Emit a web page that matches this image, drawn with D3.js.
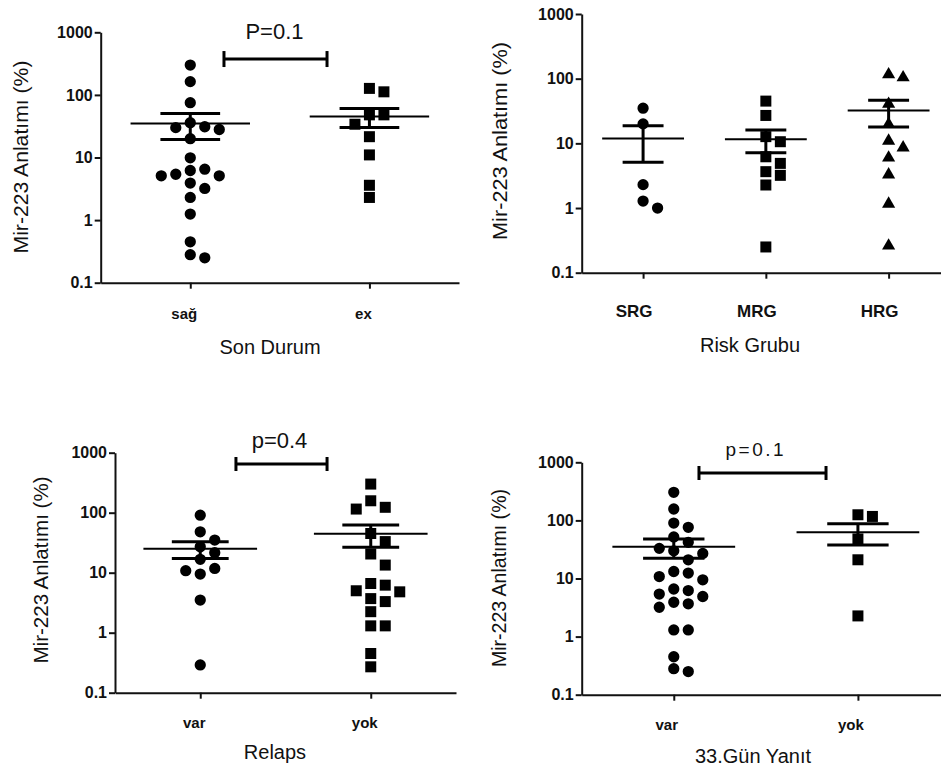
<!DOCTYPE html>
<html>
<head>
<meta charset="utf-8">
<script src="https://cdn.jsdelivr.net/npm/d3@7"></script>
<style>
  body { margin: 0; background: #fff; }
  text { font-family: "Liberation Sans", Arial, sans-serif; fill: #111; }
</style>
</head>
<body>
<svg id="chart" width="941" height="769"></svg>
<script>
// log y axis, shared by all four plots
const yTicks = [0.1, 1, 10, 100, 1000];
const yTickLabels = ["0.1", "1", "10", "100", "1000"];
const yTitleText = "Mir-223 Anlatımı (%)";

// Son Durum
const sonDurumCats = ["sağ", "ex"];
const sonDurumSag = [300, 163, 75, 36, 31, 30, 28, 20, 9.9, 6.5, 6.2, 5.4, 5.1, 5.1, 3.9, 3.2, 2.3, 1.25, 0.45, 0.28, 0.25];
const sonDurumEx = [127, 112, 48, 48, 34, 21.5, 11, 3.6, 2.3];

// Risk Grubu
const riskCats = ["SRG", "MRG", "HRG"];
const riskSRG = [35, 20, 2.3, 1.28, 1.0];
const riskMRG = [45, 27, 12.7, 10.6, 6.2, 4.9, 3.65, 3.2, 2.27, 0.25];
const riskHRG = [120, 108, 42, 20.4, 11.3, 8.9, 6.2, 3.4, 1.2, 0.27];

// Relaps
const relapsCats = ["var", "yok"];
const relapsVar = [91, 48, 35, 27, 21.5, 16.7, 11.8, 10.8, 9.5, 3.5, 0.29];
const relapsYok = [300, 158, 123, 115, 45, 33, 20.5, 13.4, 6.6, 6.2, 5.0, 4.8, 3.7, 3.3, 2.24, 1.3, 1.3, 0.45, 0.27];

// 33. gün yanıt
const yanitCats = ["var", "yok"];
const yanitVar = [304, 157, 90, 76, 52, 42, 33, 30, 27, 21, 13.2, 12.4, 10.8, 9.5, 6.6, 6.2, 5.4, 4.9, 3.9, 3.66, 3.2, 1.3, 1.3, 0.45, 0.28, 0.25];
const yanitYok = [125, 117, 48, 21, 2.27];

const svg = d3.select("#chart");
svg.append("rect").attr("width", 941).attr("height", 769).attr("fill", "#fff");

const symbolTypes = { circle: d3.symbolCircle, square: d3.symbolSquare, triangle: d3.symbolTriangle };
const symbolSizes = { circle: 100, square: 121, triangle: 75 };

const panels = [
  {
    cats: sonDurumCats, groups: [sonDurumSag, sonDurumEx], shapes: ["circle", "square"],
    xRange: [100.7, 459], yRange: [282.7, 32.3],
    cat: { size: 15, dx: -6, dy: 36 },
    yTitle: { x: 28, y: 157, len: 193 },
    xTitle: { text: "Son Durum", x: 270, y: 354 },
    sig: { value: 374, dxA: 33.7, dxB: -42.4, cap: 8, label: "P=0.1", ldx: -1, ldy: -20, size: 22, len: 0 }
  },
  {
    cats: riskCats, groups: [riskSRG, riskMRG, riskHRG], shapes: ["circle", "square", "triangle"],
    xRange: [581.7, 950], yRange: [272.7, 14],
    cat: { size: 17, dx: -9, dy: 44 },
    yTitle: { x: 507, y: 141, len: 198 },
    xTitle: { text: "Risk Grubu", x: 750, y: 352 },
    sig: null
  },
  {
    cats: relapsCats, groups: [relapsVar, relapsYok], shapes: ["circle", "square"],
    xRange: [115, 456], yRange: [692.7, 452.7],
    cat: { size: 15, dx: -6, dy: 35 },
    yTitle: { x: 48, y: 570, len: 187 },
    xTitle: { text: "Relaps", x: 275, y: 759 },
    sig: { value: 648, dxA: 35.7, dxB: -43.7, cap: 7, label: "p=0.4", ldx: -2, ldy: -16, size: 22, len: 0 }
  },
  {
    cats: yanitCats, groups: [yanitVar, yanitYok], shapes: ["circle", "square"],
    xRange: [581.7, 950], yRange: [694.7, 462.3],
    cat: { size: 15, dx: -7, dy: 35 },
    yTitle: { x: 506, y: 578, len: 178 },
    xTitle: { text: "33.Gün Yanıt", x: 753, y: 763 },
    sig: { value: 655, dxA: 25.2, dxB: -31.9, cap: 7, label: "p=0.1", ldx: -8, ldy: -17, size: 19, len: 58 }
  }
];

// simple dot-plot spreading: put each point in the first free column (0, +1, -1, +2, ...)
function swarm(values, y, cx, gap, minDist) {
  const placed = [];
  const order = values.map((v, i) => i).sort((a, b) => values[b] - values[a]);
  const slots = [0, 1, -1, 2, -2, 3, -3, 4, -4];
  order.forEach(i => {
    const py = y(values[i]);
    for (const s of slots) {
      const px = cx + s * gap;
      if (placed.every(q => Math.hypot(q.x - px, q.y - py) >= minDist)) {
        placed.push({ x: px, y: py, v: values[i] });
        break;
      }
    }
  });
  return placed;
}

function drawPanel(p) {
  const g = svg.append("g");
  const x = d3.scalePoint().domain(p.cats).range(p.xRange).padding(0.5);
  const y = d3.scaleLog().domain([0.1, 1000]).range(p.yRange);
  const step = x.step();
  const x0 = p.xRange[0];
  const yB = p.yRange[0];

  // points
  p.groups.forEach((vals, gi) => {
    const cx = x(p.cats[gi]);
    const pts = swarm(vals, y, cx, 14.5, 11.5);
    const sym = d3.symbol().type(symbolTypes[p.shapes[gi]]).size(symbolSizes[p.shapes[gi]]);
    g.selectAll(null).data(pts).enter().append("path")
      .attr("d", sym)
      .attr("transform", d => `translate(${d.x},${d.y + (p.shapes[gi] === "triangle" ? 1 : 0)})`)
      .attr("fill", "#000");

    // mean and SEM
    const m = d3.mean(vals);
    const sem = d3.deviation(vals) / Math.sqrt(vals.length);
    const hw = step / 3, cw = step / 6;
    g.append("line").attr("x1", cx - hw).attr("x2", cx + hw)
      .attr("y1", y(m)).attr("y2", y(m)).attr("stroke", "#000").attr("stroke-width", 2);
    const bar = g.append("g").attr("stroke", "#000").attr("stroke-width", 3);
    bar.append("line").attr("x1", cx).attr("x2", cx).attr("y1", y(m + sem)).attr("y2", y(m - sem));
    [m + sem, m - sem].forEach(v => {
      bar.append("line").attr("x1", cx - cw).attr("x2", cx + cw).attr("y1", y(v)).attr("y2", y(v));
    });
  });

  // y axis
  const ya = g.append("g").attr("transform", `translate(${x0},0)`)
    .call(d3.axisLeft(y).tickValues(yTicks).tickFormat((d, i) => yTickLabels[i])
      .tickSize(6).tickSizeOuter(0).tickPadding(2));
  ya.selectAll("path,line").attr("stroke", "#111").attr("stroke-width", 2);
  ya.selectAll("text").attr("font-size", 16).attr("font-weight", "bold")
    .attr("fill", "#111")
    .style("font-family", '"Liberation Sans", Arial, sans-serif');

  // x axis: tick marks from the axis, category labels below
  const xa = g.append("g").attr("transform", `translate(0,${yB})`)
    .call(d3.axisBottom(x).tickSize(6).tickSizeOuter(0).tickFormat(""));
  xa.selectAll("path,line").attr("stroke", "#111").attr("stroke-width", 2);

  g.selectAll(null).data(p.cats).enter().append("text")
    .attr("x", d => x(d) + p.cat.dx).attr("y", yB + p.cat.dy)
    .attr("text-anchor", "middle")
    .attr("font-size", p.cat.size).attr("font-weight", "bold")
    .text(d => d);

  // axis titles
  g.append("text")
    .attr("transform", `translate(${p.yTitle.x},${p.yTitle.y}) rotate(-90)`)
    .attr("text-anchor", "middle")
    .attr("font-size", 20)
    .attr("textLength", p.yTitle.len).attr("lengthAdjust", "spacingAndGlyphs")
    .text(yTitleText);
  g.append("text")
    .attr("x", p.xTitle.x).attr("y", p.xTitle.y)
    .attr("text-anchor", "middle").attr("font-size", 20)
    .text(p.xTitle.text);

  // significance bracket
  if (p.sig) {
    const s = p.sig;
    const a = x(p.cats[0]) + s.dxA, b = x(p.cats[1]) + s.dxB, sy = y(s.value);
    const br = g.append("g").attr("stroke", "#000").attr("stroke-width", 3);
    br.append("line").attr("x1", a).attr("x2", b).attr("y1", sy).attr("y2", sy);
    [a, b].forEach(xx => br.append("line").attr("x1", xx).attr("x2", xx)
      .attr("y1", sy - s.cap).attr("y2", sy + s.cap));
    const t = g.append("text")
      .attr("x", (a + b) / 2 + s.ldx).attr("y", sy + s.ldy)
      .attr("text-anchor", "middle").attr("font-size", s.size)
      .text(s.label);
    if (s.len) t.attr("textLength", s.len).attr("lengthAdjust", "spacing");
  }
}

panels.forEach(drawPanel);
</script>
</body>
</html>
